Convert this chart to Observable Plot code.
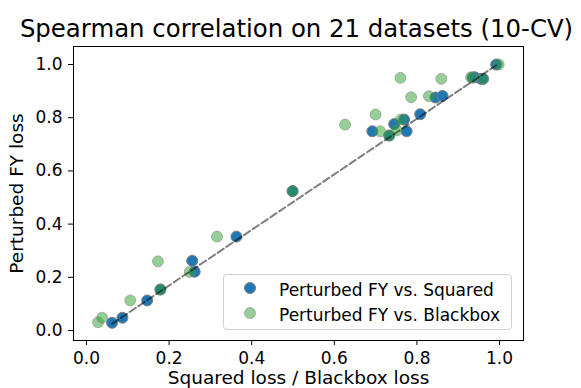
<!DOCTYPE html>
<html>
<head>
<meta charset="utf-8">
<script src="https://cdn.jsdelivr.net/npm/d3@7"></script>
<script src="https://cdn.jsdelivr.net/npm/@observablehq/plot@0.6"></script>
<style>
  html, body { margin: 0; padding: 0; background: white; }
  #wrap { position: relative; width: 581px; height: 388px; overflow: hidden; background: white; font-family: "DejaVu Sans", sans-serif; }
  #title { position: relative; height: 40px; }
  #title span { position: absolute; left: 0; width: 581px; padding-left: 12px; box-sizing: border-box; text-align: center; top: 17px; font-size: 24.4px; line-height: 24px; white-space: nowrap; color: black; }
  #legend { position: absolute; left: 223px; top: 274px; width: 289px; height: 56px; border: 1px solid #d0d0d0; border-radius: 4px; background: rgba(255,255,255,0.8); box-sizing: border-box; }
  #legend .row { position: absolute; left: 0; height: 25px; width: 100%; }
  #legend .row svg { position: absolute; left: 18px; top: 2px; }
  #legend .row span { position: absolute; left: 55px; top: 1px; font-size: 17px; line-height: 22px; white-space: nowrap; color: black; }
  g[aria-label="x-axis label"], g[aria-label="y-axis label"] { font-size: 18.5px; }
</style>
</head>
<body>
<div id="wrap">
  <div id="title"><span>Spearman correlation on 21 datasets (10-CV)</span></div>
  <div id="chart"></div>
  <div id="legend"></div>
</div>
<script>
// Perturbed FY vs. Squared (x = Squared loss, y = Perturbed FY loss)
const squaredX = [0.062, 0.087, 0.147, 0.179, 0.256, 0.262, 0.363, 0.499, 0.692, 0.733, 0.745, 0.769, 0.775, 0.808, 0.845, 0.862, 0.935, 0.940, 0.955, 0.960, 0.992];
const squaredY = [0.029, 0.048, 0.113, 0.154, 0.262, 0.221, 0.353, 0.524, 0.749, 0.733, 0.776, 0.793, 0.749, 0.813, 0.876, 0.882, 0.951, 0.952, 0.946, 0.946, 1.000];
// Perturbed FY vs. Blackbox (x = Blackbox loss, y = Perturbed FY loss)
const blackboxX = [0.028, 0.038, 0.106, 0.179, 0.173, 0.250, 0.316, 0.499, 0.626, 0.700, 0.711, 0.733, 0.751, 0.761, 0.760, 0.786, 0.829, 0.859, 0.931, 0.960, 0.998];
const blackboxY = [0.031, 0.048, 0.113, 0.154, 0.260, 0.220, 0.353, 0.524, 0.774, 0.812, 0.749, 0.733, 0.752, 0.793, 0.950, 0.877, 0.881, 0.946, 0.952, 0.946, 1.000];
// dashed reference line endpoints
const refX = [0.062, 0.995];
const refY = [0.025, 1.000];
const xTicks = [0.0, 0.2, 0.4, 0.6, 0.8, 1.0];
const yTicks = [0.0, 0.2, 0.4, 0.6, 0.8, 1.0];
const seriesNames = ["Perturbed FY vs. Squared", "Perturbed FY vs. Blackbox"];

const squared = squaredX.map((x, i) => ({x, y: squaredY[i]}));
const blackbox = blackboxX.map((x, i) => ({x, y: blackboxY[i]}));
const ref = refX.map((x, i) => ({x, y: refY[i]}));

const fmt = d3.format(".1f");
const chart = Plot.plot({
  width: 581,
  height: 348,
  marginLeft: 73,
  marginRight: 58,
  marginTop: 6,
  marginBottom: 48,
  style: {fontFamily: "DejaVu Sans, sans-serif", background: "white", color: "black", overflow: "visible"},
  x: {domain: [-0.0314, 1.058]},
  y: {domain: [-0.0376, 1.0677]},
  marks: [
    Plot.axisX({ticks: xTicks, tickFormat: fmt, tickSize: 5, tickPadding: 6, fontSize: 17, stroke: "black",
      label: "Squared loss / Blackbox loss", labelAnchor: "center", labelArrow: "none", labelOffset: 43}),
    Plot.axisY({ticks: yTicks, tickFormat: fmt, tickSize: 5, tickPadding: 6, fontSize: 17, stroke: "black",
      label: "Perturbed FY loss", labelAnchor: "center", labelArrow: "none", labelOffset: 64}),
    Plot.dot(squared, {x: "x", y: "y", r: 5.5, fill: "#1f77b4", stroke: "#808080", strokeWidth: 1}),
    Plot.dot(blackbox, {x: "x", y: "y", r: 5.5, fill: "#2ca02c", fillOpacity: 0.5, stroke: "#808080", strokeOpacity: 0.5, strokeWidth: 1}),
    Plot.line(ref, {x: "x", y: "y", stroke: "black", strokeOpacity: 0.5, strokeWidth: 2, strokeDasharray: "7.4,3.2"}),
    Plot.frame({stroke: "black", strokeWidth: 1})
  ]
});
document.getElementById("chart").appendChild(chart);

const legend = document.getElementById("legend");
const legendStyles = [
  {fill: "#1f77b4", fillOpacity: 1, strokeOpacity: 1},
  {fill: "#2ca02c", fillOpacity: 0.5, strokeOpacity: 0.5}
];
seriesNames.forEach((name, i) => {
  const row = document.createElement("div");
  row.className = "row";
  row.style.top = (3 + i * 25) + "px";
  const s = legendStyles[i];
  row.innerHTML = `<svg width="16" height="16"><circle cx="8" cy="8" r="5.5" fill="${s.fill}" fill-opacity="${s.fillOpacity}" stroke="#808080" stroke-opacity="${s.strokeOpacity}"/></svg><span>${name}</span>`;
  legend.appendChild(row);
});
</script>
</body>
</html>
